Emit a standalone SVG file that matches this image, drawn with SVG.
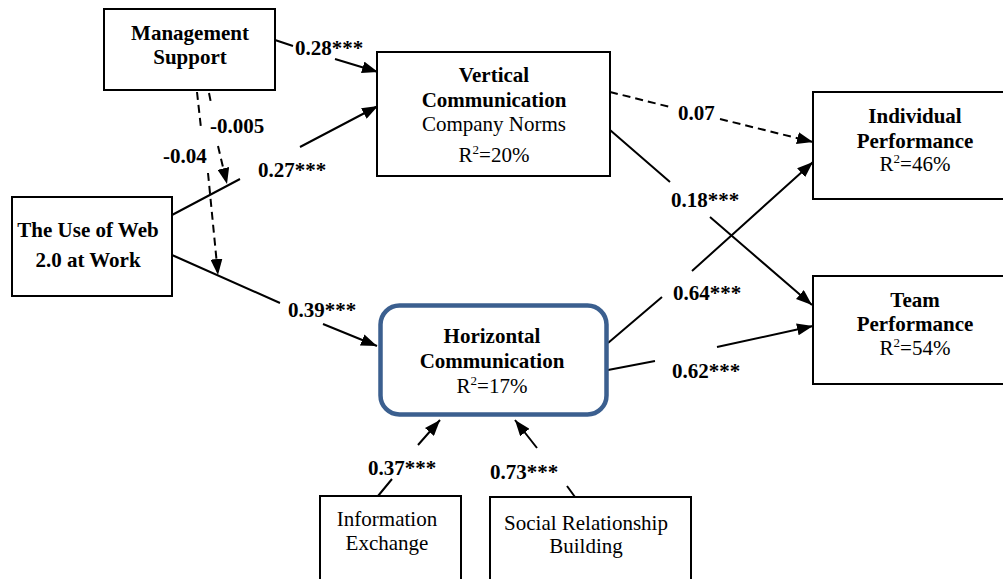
<svg xmlns="http://www.w3.org/2000/svg" width="1003" height="579" viewBox="0 0 1003 579">
<style>
.box{fill:#fff;stroke:#000;stroke-width:2}
.hbox{fill:#fff;stroke:#3b5f8f;stroke-width:4.5}
text{font-family:"Liberation Serif","Times New Roman",serif;font-size:21px;fill:#000}
.b{font-weight:bold}
.c{text-anchor:middle}
.sup{font-size:13px}
.ln{fill:none;stroke:#000;stroke-width:2}
.dash{stroke-dasharray:8 5}
</style>
<defs>
<marker id="ah" markerWidth="16" markerHeight="12" refX="16" refY="6" orient="auto" markerUnits="userSpaceOnUse">
<path d="M0,0 L16,6 L0,12 z" fill="#000"/>
</marker>
</defs>
<rect width="1003" height="579" fill="#fff"/>

<g id="connectors">
<path class="ln" d="M275,40 L293,46 M335,59 L378,72" marker-end="url(#ah)"/>
<path class="ln" d="M172,215 L240,179 M300,147 L378,106" marker-end="url(#ah)"/>
<path class="ln" d="M172,255 L280,303 M323,324 L377,346" marker-end="url(#ah)"/>
<path class="ln dash" d="M197,92 L201,128 M208,173 L218,275" marker-end="url(#ah)"/>
<path class="ln dash" d="M209,93 L211,103 M218,146 L227,184" marker-end="url(#ah)"/>
<path class="ln dash" d="M610,92 L670,107 M720,119 L813,142" marker-end="url(#ah)"/>
<path class="ln" d="M610,130 L670,182 M710,217 L812,305" marker-end="url(#ah)"/>
<path class="ln" d="M608,343 L662,297 M692,271 L813,162" marker-end="url(#ah)"/>
<path class="ln" d="M608,370 L655,361 M717,347 L813,326" marker-end="url(#ah)"/>
<path class="ln" d="M378,496 L392,479 M418,445 L440,420" marker-end="url(#ah)"/>
<path class="ln" d="M575,497 L567,486 M537,448 L515,420" marker-end="url(#ah)"/>
<text class="b" x="295" y="55">0.28***</text>
<text class="b" x="258" y="177">0.27***</text>
<text class="b" x="288" y="317">0.39***</text>
<text class="b" x="163" y="163">-0.04</text>
<text class="b" x="210" y="133">-0.005</text>
<text class="b" x="678" y="120">0.07</text>
<text class="b" x="671" y="207">0.18***</text>
<text class="b" x="673" y="300">0.64***</text>
<text class="b" x="672" y="378">0.62***</text>
<text class="b" x="368" y="475">0.37***</text>
<text class="b" x="490" y="479">0.73***</text>
</g>

<g id="management-support">
<rect class="box" x="104" y="9" width="171" height="81"/>
<text class="b c" x="190" y="40">Management</text>
<text class="b c" x="190" y="64">Support</text>
</g>

<g id="web20">
<rect class="box" x="12" y="197" width="160" height="99"/>
<text class="b c" x="88" y="237">The Use of Web</text>
<text class="b c" x="88" y="267">2.0 at Work</text>
</g>

<g id="vertical-communication">
<rect class="box" x="377" y="52" width="233" height="124"/>
<text class="b c" x="494" y="82">Vertical</text>
<text class="b c" x="494" y="107">Communication</text>
<text class="c" x="494" y="131">Company Norms</text>
<text class="c" x="494" y="162">R<tspan class="sup" dy="-8">2</tspan><tspan dy="8">=20%</tspan></text>
</g>

<g id="horizontal-communication">
<rect class="hbox" x="380.5" y="305.5" width="226" height="109" rx="19"/>
<text class="b c" x="492" y="343">Horizontal</text>
<text class="b c" x="492" y="368">Communication</text>
<text class="c" x="492" y="393">R<tspan class="sup" dy="-8">2</tspan><tspan dy="8">=17%</tspan></text>
</g>

<g id="individual-performance">
<rect class="box" x="813" y="92" width="200" height="107"/>
<text class="b c" x="915" y="123">Individual</text>
<text class="b c" x="915" y="148">Performance</text>
<text class="c" x="915" y="171">R<tspan class="sup" dy="-8">2</tspan><tspan dy="8">=46%</tspan></text>
</g>

<g id="team-performance">
<rect class="box" x="813" y="276" width="200" height="108"/>
<text class="b c" x="915" y="307">Team</text>
<text class="b c" x="915" y="331">Performance</text>
<text class="c" x="915" y="355">R<tspan class="sup" dy="-8">2</tspan><tspan dy="8">=54%</tspan></text>
</g>

<g id="information-exchange">
<rect class="box" x="320" y="496" width="141" height="100"/>
<text class="c" x="387" y="526">Information</text>
<text class="c" x="387" y="550">Exchange</text>
</g>

<g id="social-relationship-building">
<rect class="box" x="490" y="497" width="201" height="100"/>
<text class="c" x="586" y="530">Social Relationship</text>
<text class="c" x="586" y="553">Building</text>
</g>
</svg>
